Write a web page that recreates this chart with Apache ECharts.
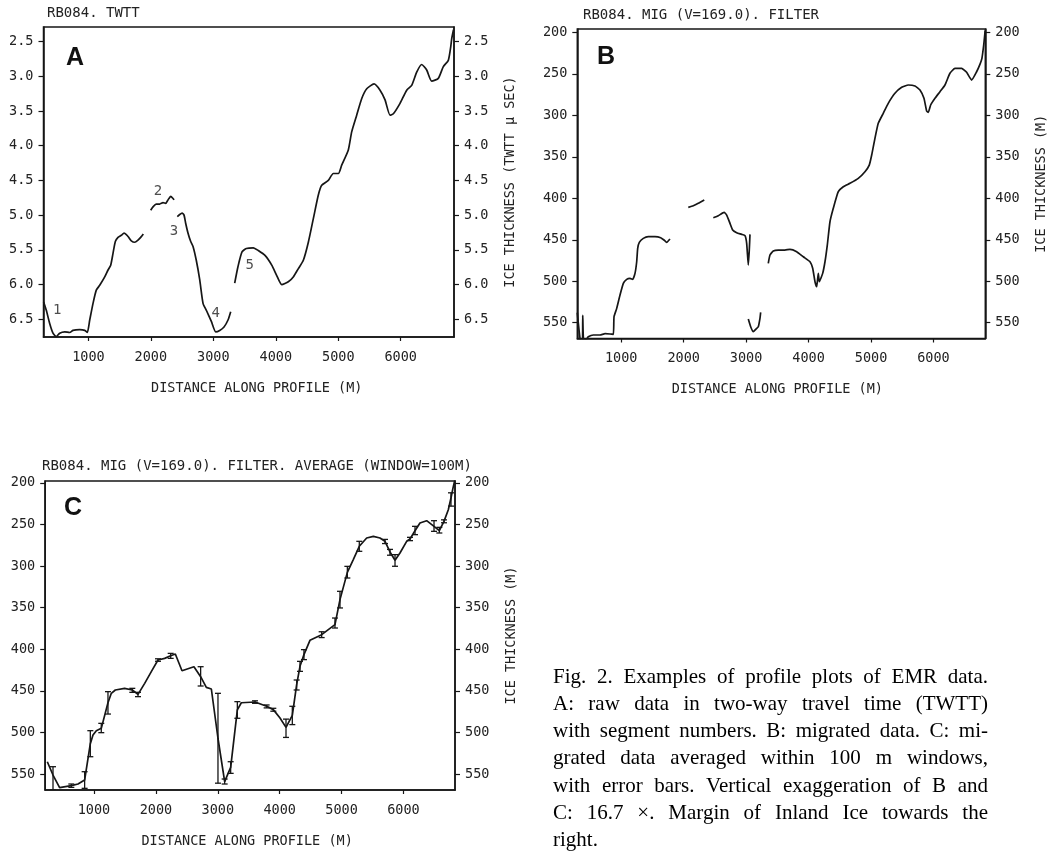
<!DOCTYPE html>
<html>
<head>
<meta charset="utf-8">
<title>RB084 EMR profiles</title>
<script src="https://cdn.jsdelivr.net/npm/echarts@6/dist/echarts.min.js"></script>
<style>
  html, body { margin: 0; padding: 0; background: #fff; }
  #chart { width: 1064px; height: 856px; }
</style>
</head>
<body>
<div id="chart"></div>
<script>
// panel A: raw two-way travel time, segments split by null
const aDist = [283, 326, 380, 433, 486, 540, 621, 701, 753, 861, 941, 982, 1021, 1074, 1126, 1181, 1261, 1314, 1357, 1394, 1431, 1474, 1527, 1570, 1607, 1645, 1687, 1741, 1794, 1847, 1879, null,
  1997, 2034, 2087, 2141, 2194, 2237, 2274, 2318, 2355, 2371, null,
  2423, 2462, 2499, 2531, 2558, 2595, 2638, 2675, 2727, 2782, 2835, 2888, 2968, 3038, 3102, 3171, 3235, 3278, null,
  3342, 3395, 3459, 3528, 3640, 3720, 3827, 3935, 4015, 4095, 4200, 4280, 4361, 4441, 4521, 4601, 4681, 4735, 4841, 4921, 5001, 5055, 5161, 5215, 5295, 5376, 5456, 5573, 5669, 5749, 5829, 5882, 5989, 6096, 6176, 6256, 6336, 6416, 6496, 6602, 6682, 6762, 6800, 6816, 6845]
const aTwtt = [6.25, 6.37, 6.56, 6.70, 6.75, 6.70, 6.68, 6.69, 6.66, 6.65, 6.66, 6.69, 6.51, 6.27, 6.08, 6.01, 5.89, 5.79, 5.72, 5.55, 5.38, 5.32, 5.29, 5.26, 5.28, 5.32, 5.37, 5.39, 5.36, 5.31, 5.27, null,
  4.93, 4.88, 4.84, 4.84, 4.82, 4.83, 4.78, 4.73, 4.76, 4.78, null,
  5.02, 4.99, 4.97, 5.00, 5.12, 5.26, 5.38, 5.45, 5.65, 5.93, 6.27, 6.37, 6.53, 6.68, 6.66, 6.61, 6.51, 6.39, null,
  5.98, 5.74, 5.53, 5.48, 5.47, 5.51, 5.58, 5.72, 5.87, 6.00, 5.96, 5.89, 5.77, 5.65, 5.39, 5.05, 4.71, 4.57, 4.50, 4.40, 4.40, 4.28, 4.06, 3.80, 3.56, 3.32, 3.18, 3.11, 3.20, 3.34, 3.56, 3.54, 3.39, 3.20, 3.13, 2.94, 2.83, 2.91, 3.07, 3.03, 2.86, 2.77, 2.58, 2.46, 2.33]

// segment numbers written next to the curve in A
const segNames = ['1', '2', '3', '4', '5']
const segDist = [502, 2114, 2371, 3038, 3582]
const segTwtt = [6.37, 4.66, 5.24, 6.42, 5.72]

// panel B: migrated, filtered ice thickness (m)
const bDist = [297, 345, 380, 384, 398, 440, 473, 553, 660, 741, 821, 874, 885, 928, 981, 1034, 1088, 1141, 1184, 1221, 1248, 1264, 1290, 1354, 1434, 1541, 1632, 1685, 1728, 1781, null,
  2074, 2154, 2234, 2330, null,
  2475, 2555, 2647, 2689, 2742, 2785, 2849, 2929, 2982, 3009, 3035, 3051, 3062, null,
  3035, 3073, 3115, 3158, 3195, 3222, 3233, null,
  3355, 3382, 3435, 3515, 3622, 3702, 3810, 3916, 4023, 4066, 4103, 4130, 4156, 4172, 4226, 4263, 4300, 4343, 4396, 4476, 4556, 4663, 4796, 4903, 4972, 5011, 5063, 5116, 5196, 5276, 5383, 5491, 5597, 5704, 5784, 5848, 5891, 5917, 5955, 6024, 6104, 6184, 6264, 6344, 6451, 6531, 6611, 6691, 6744, 6776, 6805, 6828]
const bThick = [538, 571, 572, 541, 571, 570, 566.9, 564.8, 564.8, 563.2, 563.6, 564, 542.8, 532.7, 516.6, 502.5, 497.7, 496.5, 497.7, 490.5, 476.5, 460.3, 453.1, 448.3, 446.3, 446.3, 447.5, 450.3, 453.1, 449.1, null,
  411, 409, 406.1, 402.1, null,
  423.4, 421, 417, 420.2, 430.2, 438.3, 441.5, 443.5, 445.1, 454.3, 480.5, 462.4, 443.5, null,
  545.6, 554.8, 560.8, 557.6, 554.8, 544.7, 537.5, null,
  478.4, 468.4, 463.6, 462.4, 462.4, 461.6, 464.4, 470.5, 476.5, 484.4, 500.6, 506.6, 490.5, 500.6, 490.5, 476.5, 456.4, 428.3, 412.1, 392.1, 386.1, 382, 376, 368, 360, 347.9, 327.8, 309.7, 297.6, 285.6, 273.5, 266.3, 263.5, 264.7, 269.5, 279.5, 294.9, 296.4, 287.6, 279.5, 271.6, 263.5, 249.4, 243.4, 243.4, 248.2, 257.5, 247.5, 238.6, 231.3, 215, 198]

// panel C: 100 m window averages with error bars (null = no bar drawn)
const cDist = [246, 338, 445, 634, 742, 849, 941, 984, 1038, 1118, 1226, 1280, 1345, 1495, 1619, 1711, 1819, 1926, 2034, 2142, 2239, 2314, 2422, 2615, 2723, 2815, 2896, 3003, 3111, 3208, 3316, 3380, 3601, 3789, 3897, 4005, 4102, 4204, 4274, 4328, 4392, 4489, 4678, 4893, 4974, 5093, 5189, 5286, 5405, 5513, 5620, 5701, 5782, 5863, 5943, 6051, 6105, 6186, 6266, 6374, 6493, 6579, 6654, 6724, 6767, 6800, 6828]
const cThick = [535.2, 551.2, 566.4, 564, 562, 557.2, 513.5, 503.1, 497.9, 495.1, 464.3, 453, 449, 447, 449, 454.2, 441, 427, 413, 411, 407.8, 405.8, 425.8, 421, 433, 445.8, 447.8, 507, 559.2, 542, 473, 464.3, 463.4, 468.6, 472.6, 482.6, 493.9, 479.4, 442.6, 420.5, 406.5, 389.3, 382.5, 370.5, 340.4, 307.6, 292.3, 276.3, 266.3, 264.3, 266.3, 270.3, 283.1, 293.1, 284.3, 270.3, 267.5, 257.5, 248.3, 245.5, 252.3, 257.5, 246.3, 232.3, 218.2, 206, 197]
const cErrLow = [null, 541.2, null, 562, null, 547.2, 497.9, null, null, 489.1, 451, null, null, null, 447, 451.8, null, null, 411.5, null, 405, null, null, null, 421, null, null, 453, 556, 535.2, 463, null, 462, 467, 471, null, 484, 468.6, 437, 414.6, 400.5, null, 379, 362.5, 330.4, 300.4, null, 270.3, null, null, null, 268, 280, 286.3, null, null, 265.5, 252.3, null, null, 245.5, 253.5, 244.5, null, 212, null, null]
const cErrHigh = [null, 569.2, null, 566, null, 567.2, 529.2, null, null, 500.3, 477.9, null, null, null, 451.8, 457, null, null, 414.5, null, 411, null, null, null, 444.2, null, null, 561, 562, 549.2, 483, null, 465, 470.5, 474.5, null, 506, 490.6, 449, 426.6, 412.5, null, 386, 374.5, 350.4, 314.4, null, 282.3, null, null, null, 273, 287, 300.3, null, null, 269.5, 262.3, null, null, 258.3, 260.3, 248, null, 228, null, null]

const distTicks = [1000, 2000, 3000, 4000, 5000, 6000]
const twttTicks = [2.5, 3.0, 3.5, 4.0, 4.5, 5.0, 5.5, 6.0, 6.5]
const thickTicks = [200, 250, 300, 350, 400, 450, 500, 550]

const captionLines = [
    'Fig. 2. Examples of profile plots of EMR data.',
    'A: raw data in two-way travel time (TWTT)',
    'with segment numbers. B: migrated data. C: mi-',
    'grated data averaged within 100 m windows,',
    'with error bars. Vertical exaggeration of B and',
    'C: 16.7 \u00d7. Margin of Inland Ice towards the',
    'right.'
]

const MONO = 'DejaVu Sans Mono'
const INK = '#161616'

const pairs = (xs, ys) => xs.map((x, i) => x === null ? [xs[i - 1], null] : [x, ys[i]])

const gridBox = (left, top, width, height) => ({
    left, top, width, height,
    show: true, borderColor: INK, borderWidth: 1.5,
    containLabel: false, outerBoundsMode: 'none'
})

const xAxisFor = (gi, min, max, namePad) => ({
    type: 'value', gridIndex: gi, min, max, position: 'bottom',
    name: 'DISTANCE ALONG PROFILE (M)', nameLocation: 'middle', nameGap: 44,
    nameTextStyle: { fontFamily: MONO, fontSize: 13.5, color: '#222', padding: namePad },
    axisLine: { show: true, lineStyle: { color: INK, width: 1.5 } },
    splitLine: { show: false },
    axisTick: { show: true, length: 4, customValues: distTicks, lineStyle: { color: INK, width: 1.2 } },
    axisLabel: { customValues: distTicks, margin: 13, fontFamily: MONO, fontSize: 13.5, color: '#222', formatter: v => String(v) }
})

const yAxisFor = (gi, pos, min, max, ticks, fmt, name) => ({
    type: 'value', gridIndex: gi, position: pos, min, max, inverse: true,
    name: name || '', nameLocation: 'middle', nameRotate: 90, nameGap: 49,
    nameTextStyle: { fontFamily: MONO, fontSize: 13.5, color: '#222' },
    axisLine: { show: true, lineStyle: { color: INK, width: 1.5 } },
    splitLine: { show: false },
    axisTick: { show: true, length: 5, customValues: ticks, lineStyle: { color: INK, width: 1.2 } },
    axisLabel: { customValues: ticks, margin: 10, fontFamily: MONO, fontSize: 13.5, color: '#222', formatter: fmt }
})

const oneDec = v => v.toFixed(1)
const noDec = v => String(Math.round(v))

const lineStyle = { color: INK, width: 1.7 }

const errBars = cDist.map((d, i) => [d, cErrLow[i], cErrHigh[i]]).filter(r => r[1] !== null)

// caption, justified word by word like the printed page
const capFontSize = 21
const capFamily = 'Liberation Serif'
const ctx = document.createElement('canvas').getContext('2d')
ctx.font = capFontSize + 'px "' + capFamily + '"'
const capLeft = 553, capRight = 988, capTop = 677, capStep = 27.3
const captionGraphics = []
captionLines.forEach((line, li) => {
    const words = line.split(' ')
    const widths = words.map(w => ctx.measureText(w).width)
    const total = widths.reduce((a, b) => a + b, 0)
    const isLast = li === captionLines.length - 1
    const gap = isLast ? ctx.measureText(' ').width : (capRight - capLeft - total) / (words.length - 1)
    let x = capLeft
    words.forEach((w, i) => {
        captionGraphics.push({
            type: 'text', x: x, y: capTop + li * capStep, silent: true,
            style: { text: w, fontSize: capFontSize, fontFamily: capFamily, fill: '#000', verticalAlign: 'middle' }
        })
        x += widths[i] + gap
    })
})

const panelLetter = (txt, x, y) => ({
    type: 'text', x, y, silent: true,
    style: { text: txt, fontSize: 25, fontWeight: 'bold', fontFamily: 'Liberation Sans', fill: '#111', align: 'center', verticalAlign: 'middle' }
})

const titleStyle = { fontFamily: MONO, fontSize: 14, fontWeight: 'normal', color: '#222' }

const chart = echarts.init(document.getElementById('chart'), null, { renderer: 'canvas' })

const option = {
    backgroundColor: '#fff',
    animation: false,
    title: [
        { text: 'RB084. TWTT', left: 47, top: 6, textStyle: titleStyle, padding: 0 },
        { text: 'RB084. MIG (V=169.0). FILTER', left: 583, top: 8, textStyle: titleStyle, padding: 0 },
        { text: 'RB084. MIG (V=169.0). FILTER. AVERAGE (WINDOW=100M)', left: 42, top: 459, textStyle: titleStyle, padding: 0 }
    ],
    grid: [
        gridBox(43.5, 27, 410.5, 310),
        gridBox(577.3, 29, 408, 309.5),
        gridBox(45.2, 481, 409.8, 309)
    ],
    xAxis: [
        xAxisFor(0, 281, 6853, [0, 0, 0, 16]),
        xAxisFor(1, 297, 6830, [0, 8, 0, 0]),
        xAxisFor(2, 212, 6832, [0, 6, 0, 0])
    ],
    yAxis: [
        yAxisFor(0, 'left', 2.29, 6.755, twttTicks, oneDec),
        yAxisFor(0, 'right', 2.29, 6.755, twttTicks, oneDec, 'ICE THICKNESS (TWTT \u03bc SEC)'),
        yAxisFor(1, 'left', 196, 569, thickTicks, noDec),
        yAxisFor(1, 'right', 196, 569, thickTicks, noDec, 'ICE THICKNESS (M)'),
        yAxisFor(2, 'left', 197.8, 569.2, thickTicks, noDec),
        yAxisFor(2, 'right', 197.8, 569.2, thickTicks, noDec, 'ICE THICKNESS (M)')
    ],
    series: [
        {
            name: 'TWTT', type: 'line', xAxisIndex: 0, yAxisIndex: 0,
            data: pairs(aDist, aTwtt), showSymbol: false, smooth: 0.2,
            connectNulls: false, clip: true, lineStyle
        },
        {
            name: 'segments', type: 'scatter', xAxisIndex: 0, yAxisIndex: 0,
            data: segNames.map((n, i) => ({ name: n, value: [segDist[i], segTwtt[i]] })),
            symbolSize: 1, itemStyle: { color: 'rgba(0,0,0,0)' },
            label: { show: true, position: 'inside', formatter: '{b}', fontFamily: MONO, fontSize: 14, color: '#222' }
        },
        {
            name: 'MIG', type: 'line', xAxisIndex: 1, yAxisIndex: 2,
            data: pairs(bDist, bThick), showSymbol: false, smooth: 0.15,
            connectNulls: false, clip: true, lineStyle
        },
        {
            name: 'AVERAGE', type: 'line', xAxisIndex: 2, yAxisIndex: 4,
            data: pairs(cDist, cThick), showSymbol: false, smooth: false,
            clip: true, lineStyle
        },
        {
            name: 'error bars', type: 'custom', xAxisIndex: 2, yAxisIndex: 4,
            data: errBars, clip: true,
            renderItem: (params, api) => {
                const lo = api.coord([api.value(0), api.value(1)])
                const hi = api.coord([api.value(0), api.value(2)])
                const w = 3
                const st = { stroke: INK, lineWidth: 1.3 }
                return {
                    type: 'group',
                    children: [
                        { type: 'line', shape: { x1: lo[0], y1: lo[1], x2: hi[0], y2: hi[1] }, style: st },
                        { type: 'line', shape: { x1: lo[0] - w, y1: lo[1], x2: lo[0] + w, y2: lo[1] }, style: st },
                        { type: 'line', shape: { x1: hi[0] - w, y1: hi[1], x2: hi[0] + w, y2: hi[1] }, style: st }
                    ]
                }
            }
        }
    ],
    graphic: [
        panelLetter('A', 75, 58),
        panelLetter('B', 606, 57),
        panelLetter('C', 73, 508)
    ].concat(captionGraphics)
}

chart.setOption(option)
window.addEventListener('resize', () => {
    chart.resize()
})
</script>
</body>
</html>
